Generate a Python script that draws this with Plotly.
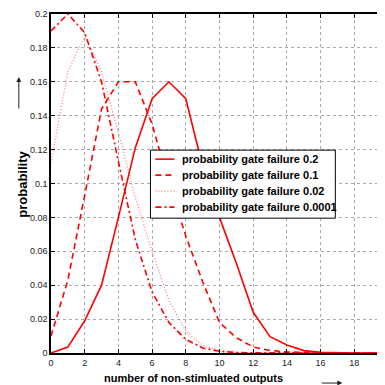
import plotly.graph_objects as go

x_outputs = list(range(21))
p_fail_02 = [0, 0.0035, 0.019, 0.04, 0.08, 0.121, 0.15, 0.16, 0.15, 0.11, 0.08, 0.053, 0.024, 0.0096, 0.0047, 0.0014, 0.0004, 0.0001, 0, 0, 0]
p_fail_01 = [0.01, 0.043, 0.093, 0.144, 0.16, 0.16, 0.135, 0.10, 0.069, 0.042, 0.018, 0.009, 0.0035, 0.0015, 0.0006, 0.0002, 0.0001, 0, 0, 0, 0]
p_fail_002 = [0.112, 0.166, 0.187, 0.166, 0.13, 0.092, 0.06, 0.031, 0.013, 0.0045, 0.0014, 0.0004, 0.0001, 0, 0, 0, 0, 0, 0, 0, 0]
p_fail_00001 = [0.19, 0.2, 0.189, 0.16, 0.113, 0.067, 0.036, 0.018, 0.008, 0.003, 0.001, 0.0003, 0.0001, 0, 0, 0, 0, 0, 0, 0, 0]

series_names = ["probability gate failure 0.2", "probability gate failure 0.1",
                "probability gate failure 0.02", "probability gate failure 0.0001"]

x_ticks = list(range(0, 21, 2))
y_ticks = [0, 0.02, 0.04, 0.06, 0.08, 0.1, 0.12, 0.14, 0.16, 0.18, 0.2]
y_tick_text = ["0", "0.02", "0.04", "0.06", "0.08", "0.1", "0.12", "0.14", "0.16", "0.18", "0.2"]

RED = "#ff0000"
styles = [
    dict(color=RED, width=1.6, dash="solid"),
    dict(color=RED, width=1.6, dash="6px,4px"),
    dict(color="rgba(255,0,0,0.55)", width=1.2, dash="1px,2px"),
    dict(color=RED, width=1.6, dash="6px,3px,2px,3px"),
]

W, H = 385, 385
ML, MR, MT, MB = 42.5, 5.3, 6, 40.3
PW, PH = W - ML - MR, H - MT - MB


def px(fx):
    return (fx - ML) / PW


def py(fy):
    return (H - MB - fy) / PH


fig = go.Figure()
for ys, name, st in zip([p_fail_02, p_fail_01, p_fail_002, p_fail_00001], series_names, styles):
    fig.add_trace(go.Scatter(x=x_outputs, y=ys, mode="lines", name=name, line=st, showlegend=False))

FONT = "Arial, Liberation Sans, sans-serif"
axis_font = dict(family=FONT, size=9, color="#222")

# hand-built legend box (plotly legend rows cannot be as tight as the original)
shapes = [dict(type="rect", xref="paper", yref="paper", x0=px(142), x1=px(327), y0=py(142), y1=py(210),
               line=dict(color="black", width=1), fillcolor="white", layer="above")]
annotations = []
for i, (name, st) in enumerate(zip(series_names, styles)):
    fy = 151 + 16 * i
    shapes.append(dict(type="line", xref="paper", yref="paper", x0=px(147), x1=px(166), y0=py(fy), y1=py(fy),
                       line=st, layer="above"))
    annotations.append(dict(text=name, xref="paper", yref="paper", x=px(172), y=py(fy),
                            xanchor="left", yanchor="middle", showarrow=False,
                            font=dict(family=FONT, size=11, weight="bold", color="black")))

annotations += [
    dict(text="number of non-stimluated outputs", xref="paper", yref="paper",
         x=0.4226, y=-0.0747, xanchor="center", yanchor="middle", showarrow=False,
         font=dict(family=FONT, size=11, weight="bold", color="black")),
    dict(text="probability", xref="paper", yref="paper", textangle=-90,
         x=-0.0845, y=0.498, xanchor="center", yanchor="middle", showarrow=False,
         font=dict(family=FONT, size=13, weight="bold", color="black")),
    dict(text="", xref="paper", yref="paper", x=-0.0955, y=0.814, ax=0, ay=33,
         showarrow=True, arrowhead=2, arrowsize=1, arrowwidth=1, arrowcolor="#222"),
    dict(text="", xref="paper", yref="paper", x=0.8645, y=-0.0886, ax=-22, ay=0,
         showarrow=True, arrowhead=2, arrowsize=1, arrowwidth=1, arrowcolor="#222"),
]

fig.update_layout(
    width=W, height=H,
    margin=dict(l=ML, r=MR, t=MT, b=MB, autoexpand=False),
    plot_bgcolor="white", paper_bgcolor="white",
    showlegend=False,
    xaxis=dict(range=[0, 20], tickvals=x_ticks, ticktext=[str(v) for v in x_ticks],
               showgrid=True, gridcolor="#aaa", griddash="dot", gridwidth=1,
               showline=True, linecolor="black", linewidth=1.5, mirror="ticks",
               ticks="inside", ticklen=4, tickcolor="black", tickfont=axis_font, zeroline=False),
    yaxis=dict(range=[0, 0.2], tickvals=y_ticks, ticktext=y_tick_text,
               showgrid=True, gridcolor="#aaa", griddash="dot", gridwidth=1,
               showline=True, linecolor="black", linewidth=1.5,
               ticks="inside", ticklen=4, tickcolor="black", tickfont=axis_font, zeroline=False),
    shapes=shapes,
    annotations=annotations,
)
fig.write_html("out.html")
